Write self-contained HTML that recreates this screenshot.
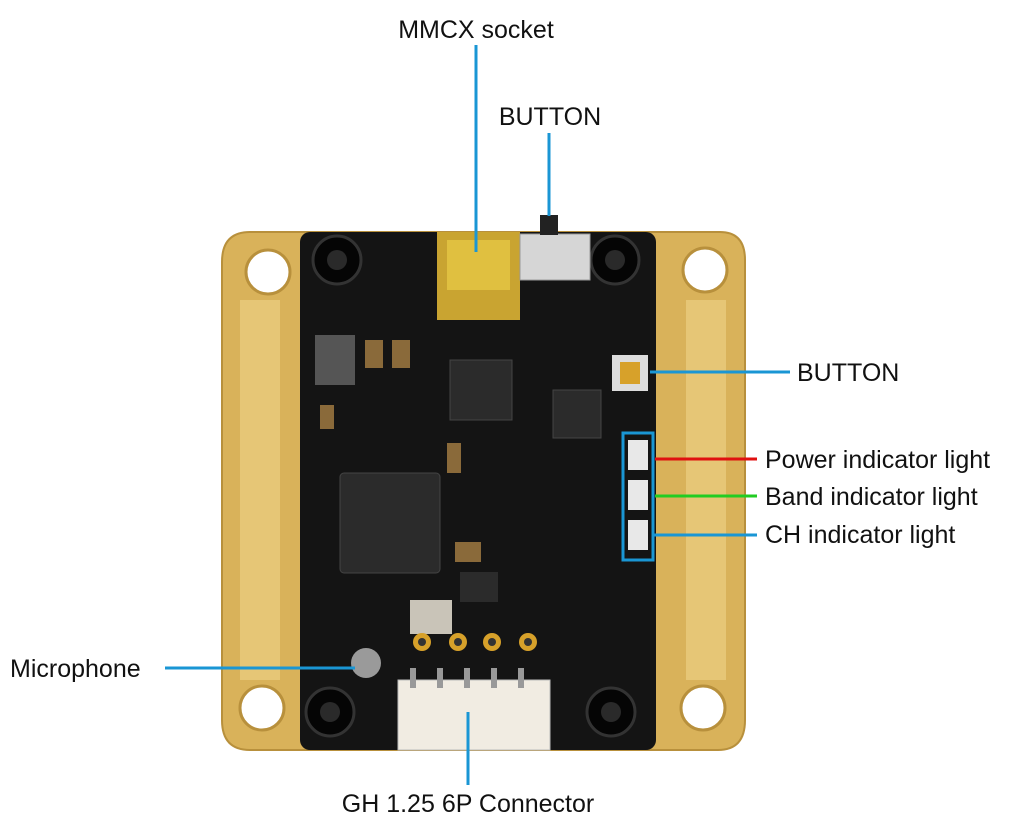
<!DOCTYPE html>
<html><head><meta charset="utf-8"><style>
html,body{margin:0;padding:0;background:#fff;}
svg{display:block}
text{font-family:"Liberation Sans",sans-serif;font-size:25px;fill:#111}
</style></head><body>
<svg width="1024" height="832" viewBox="0 0 1024 832">
<path d="M250 232 H720 Q745 232 745 260 V720 Q745 750 718 750 H250 Q222 750 222 720 V262 Q222 232 250 232 Z" fill="#d9b25a" stroke="#b8903c" stroke-width="2"/>
<rect x="240" y="300" width="40" height="380" fill="#e6c676"/>
<rect x="686" y="300" width="40" height="380" fill="#e6c676"/>
<circle cx="268" cy="272" r="22" fill="#fff" stroke="#b8903c" stroke-width="3"/>
<circle cx="705" cy="270" r="22" fill="#fff" stroke="#b8903c" stroke-width="3"/>
<circle cx="262" cy="708" r="22" fill="#fff" stroke="#b8903c" stroke-width="3"/>
<circle cx="703" cy="708" r="22" fill="#fff" stroke="#b8903c" stroke-width="3"/>
<rect x="300" y="232" width="356" height="518" rx="10" fill="#141414"/>
<g fill="#050505" stroke="#333" stroke-width="3">
<circle cx="337" cy="260" r="24"/><circle cx="615" cy="260" r="24"/>
<circle cx="330" cy="712" r="24"/><circle cx="611" cy="712" r="24"/></g>
<g fill="#2a2a2a"><circle cx="337" cy="260" r="10"/><circle cx="615" cy="260" r="10"/><circle cx="330" cy="712" r="10"/><circle cx="611" cy="712" r="10"/></g>
<rect x="437" y="232" width="83" height="88" fill="#c9a431"/>
<rect x="447" y="240" width="63" height="50" fill="#e0c040"/>
<rect x="520" y="234" width="70" height="46" fill="#d6d6d6" stroke="#999"/>
<rect x="540" y="215" width="18" height="20" fill="#222"/>
<rect x="612" y="355" width="36" height="36" fill="#ddd"/>
<rect x="620" y="362" width="20" height="22" fill="#d7a12a"/>
<rect x="315" y="335" width="40" height="50" fill="#555"/>
<rect x="340" y="473" width="100" height="100" rx="4" fill="#2b2b2b" stroke="#444"/>
<rect x="450" y="360" width="62" height="60" fill="#2b2b2b" stroke="#444"/>
<rect x="553" y="390" width="48" height="48" fill="#2b2b2b" stroke="#444"/>
<rect x="460" y="572" width="38" height="30" fill="#2b2b2b"/>
<rect x="410" y="600" width="42" height="34" fill="#c9c4b8"/>
<g fill="#8a6a3a"><rect x="365" y="340" width="18" height="28"/><rect x="392" y="340" width="18" height="28"/><rect x="447" y="443" width="14" height="30"/><rect x="455" y="542" width="26" height="20"/><rect x="320" y="405" width="14" height="24"/></g>
<g fill="#d7a12a"><circle cx="422" cy="642" r="9"/><circle cx="458" cy="642" r="9"/><circle cx="492" cy="642" r="9"/><circle cx="528" cy="642" r="9"/></g>
<g fill="#333"><circle cx="422" cy="642" r="4"/><circle cx="458" cy="642" r="4"/><circle cx="492" cy="642" r="4"/><circle cx="528" cy="642" r="4"/></g>
<g fill="#e8e8e8"><rect x="628" y="440" width="20" height="30"/><rect x="628" y="480" width="20" height="30"/><rect x="628" y="520" width="20" height="30"/></g>
<rect x="623" y="433" width="30" height="127" fill="none" stroke="#1a96d4" stroke-width="3"/>
<circle cx="366" cy="663" r="15" fill="#9a9a9a"/>
<rect x="398" y="680" width="152" height="70" fill="#f1ece2" stroke="#bbb"/>
<g fill="#999"><rect x="410" y="668" width="6" height="20"/><rect x="437" y="668" width="6" height="20"/><rect x="464" y="668" width="6" height="20"/><rect x="491" y="668" width="6" height="20"/><rect x="518" y="668" width="6" height="20"/></g>
<g stroke="#1a96d4" stroke-width="3" fill="none">
<line x1="476" y1="45" x2="476" y2="252"/>
<line x1="549" y1="133" x2="549" y2="216"/>
<line x1="650" y1="372" x2="790" y2="372"/>
<line x1="653" y1="535" x2="757" y2="535"/>
<line x1="165" y1="668" x2="355" y2="668"/>
<line x1="468" y1="712" x2="468" y2="785"/>
</g>
<line x1="655" y1="459" x2="757" y2="459" stroke="#e01010" stroke-width="3"/>
<line x1="655" y1="496" x2="757" y2="496" stroke="#22cc22" stroke-width="3"/>
<text x="476" y="38" text-anchor="middle">MMCX socket</text>
<text x="550" y="125" text-anchor="middle">BUTTON</text>
<text x="797" y="381">BUTTON</text>
<text x="765" y="468">Power indicator light</text>
<text x="765" y="505">Band indicator light</text>
<text x="765" y="543">CH indicator light</text>
<text x="10" y="677">Microphone</text>
<text x="468" y="812" text-anchor="middle">GH 1.25 6P Connector</text>
</svg>
</body></html>
